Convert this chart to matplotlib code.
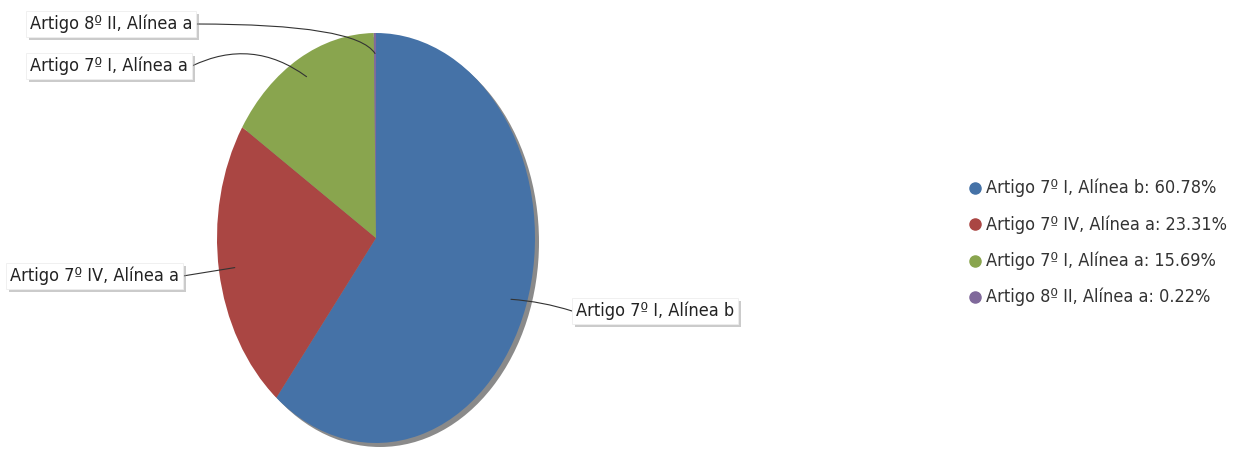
import matplotlib
matplotlib.use("Agg")
import matplotlib.pyplot as plt
import matplotlib.patheffects as pe
from matplotlib.patches import Ellipse
from matplotlib.lines import Line2D
from matplotlib import transforms
import numpy as np

labels = ["Artigo 7º I, Alínea b", "Artigo 7º IV, Alínea a",
          "Artigo 7º I, Alínea a", "Artigo 8º II, Alínea a"]
values = [60.78, 23.31, 15.69, 0.22]
colors = ["#4572A7", "#AA4643", "#89A54E", "#80699B"]

W, H = 1241, 450
fig = plt.figure(figsize=(W / 100, H / 100), dpi=100)

# pie bounding box in pixels (image coords)
cx, cy, rx, ry = 376, 238, 159, 205
ax = fig.add_axes([(cx - rx) / W, (H - cy - ry) / H, 2 * rx / W, 2 * ry / H])

# shadow
sh_tr = transforms.offset_copy(ax.transData, fig=fig, x=4, y=-4, units="dots")
ax.add_patch(Ellipse((0, 0), 2, 2, facecolor="#8a8a8a", edgecolor="none",
                     transform=sh_tr, clip_on=False, zorder=0))

wedges, _ = ax.pie(values, colors=colors, startangle=90, counterclock=False,
                   radius=1, wedgeprops=dict(linewidth=0, clip_on=False, zorder=1))
ax.set_aspect("auto")
ax.set_xlim(-1, 1)
ax.set_ylim(-1, 1)
ax.axis("off")

FONT = dict(family="DejaVu Sans", stretch="condensed", size=13.0, color="#222222")

# label text anchor (image pixel coords), side the leader attaches to, connection style
label_pos = {
    "Artigo 7º I, Alínea b": (576, 311, "left", "arc3,rad=0.06"),
    "Artigo 7º IV, Alínea a": (10, 276, "right", "arc3,rad=0.0"),
    "Artigo 7º I, Alínea a": (30, 66, "right", "arc3,rad=-0.3"),
    "Artigo 8º II, Alínea a": (30, 24, "right", "angle3,angleA=0,angleB=-58"),
}

texts = {}
for lab in labels:
    px, py, side, cs = label_pos[lab]
    t = fig.text(px / W, (H - py) / H, lab, ha="left", va="center", **FONT,
                 bbox=dict(boxstyle="square,pad=0.22", facecolor="white",
                           edgecolor="#eeeeee", linewidth=0.6), zorder=5)
    t.get_bbox_patch().set_path_effects([
        pe.SimplePatchShadow(offset=(2, -2), shadow_rgbFace="#999999", alpha=0.5),
        pe.Normal()])
    texts[lab] = t

fig.canvas.draw()
renderer = fig.canvas.get_renderer()

start = 90.0
total = sum(values)
for lab, val in zip(labels, values):
    ang = start - val / total * 360 / 2
    start -= val / total * 360
    r = 0.9
    ax_x, ax_y = r * np.cos(np.radians(ang)), r * np.sin(np.radians(ang))
    px, py, side, cs = label_pos[lab]
    bb = texts[lab].get_bbox_patch().get_window_extent(renderer)
    sx = bb.x1 if side == "right" else bb.x0
    sy = H - py
    ax.annotate("", xy=(ax_x, ax_y), xycoords="data",
                xytext=(sx, sy), textcoords="figure pixels",
                arrowprops=dict(arrowstyle="-", color="#333333", lw=0.8,
                                connectionstyle=cs, shrinkA=0, shrinkB=0),
                annotation_clip=False, zorder=4)

# legend
leg_x, leg_y0, leg_dy = 975, 188, 36.3
for i, (lab, val, col) in enumerate(zip(labels, values, colors)):
    y = H - (leg_y0 + i * leg_dy)
    fig.add_artist(Line2D([leg_x / W], [y / H], marker="o", markersize=8,
                          color=col, linestyle="", transform=fig.transFigure))
    fig.text((leg_x + 11) / W, y / H, f"{lab}: {val:.2f}%", ha="left", va="center",
             family="DejaVu Sans", stretch="condensed", size=13.0, color="#333333")

fig.savefig("out.png", dpi=100)
